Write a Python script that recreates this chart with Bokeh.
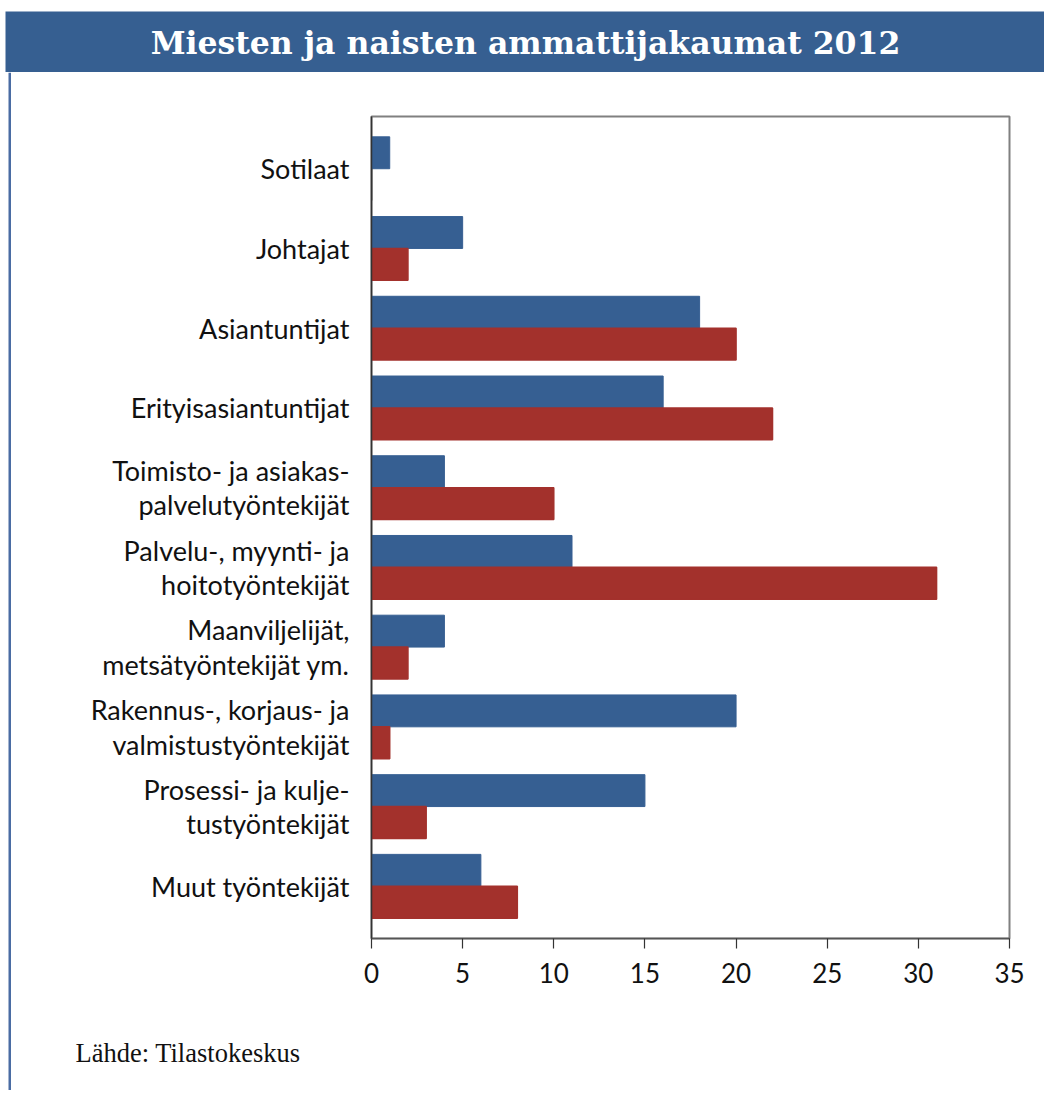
from bokeh.plotting import figure
from bokeh.models import Range1d, FixedTicker, ColumnDataSource
from bokeh.layouts import column, row
from bokeh.embed import file_html
from bokeh.resources import INLINE
from bokeh.core.properties import value

title_text = "Miesten ja naisten ammattijakaumat 2012"
source_text = "Lähde: Tilastokeskus"

categories = [
    "Sotilaat",
    "Johtajat",
    "Asiantuntijat",
    "Erityisasiantuntijat",
    "Toimisto- ja asiakas-\npalvelutyöntekijät",
    "Palvelu-, myynti- ja\nhoitotyöntekijät",
    "Maanviljelijät,\nmetsätyöntekijät ym.",
    "Rakennus-, korjaus- ja\nvalmistustyöntekijät",
    "Prosessi- ja kulje-\ntustyöntekijät",
    "Muut työntekijät",
]
men = [1, 5, 18, 16, 4, 11, 4, 20, 15, 6]
women = [0, 2, 20, 22, 10, 31, 2, 1, 3, 8]
x_ticks = [0, 5, 10, 15, 20, 25, 30, 35]

BLUE = "#365f92"
RED = "#a3312c"
HEADER = "#365f91"
SIDE = "#4a6ca3"

W = 1044
SANS = "Lato"


def bare(fig):
    fig.axis.visible = False
    fig.grid.visible = False
    fig.outline_line_color = None
    fig.frame_align = False
    return fig


NOB = dict(min_border=0, min_border_left=0, min_border_right=0,
           min_border_top=0, min_border_bottom=0)

# ---------- header ----------
HH = 72
hdr = bare(figure(width=W, height=HH, x_range=Range1d(0, W), y_range=Range1d(0, HH),
                  output_backend="svg", toolbar_location=None, **NOB))
hdr.quad(left=[5], right=[W], bottom=[0], top=[HH - 11], fill_color=HEADER, line_color=None)
hdr.text(x=[525], y=[HH - 42], text=[title_text], text_color="white",
         text_font=value("DejaVu Serif"), text_font_style="bold",
         text_font_size="31.5px", text_align="center", text_baseline="middle")

# ---------- main chart ----------
SW = 11
MW = W - SW
MH = 928
idx = list(range(len(categories)))
src = ColumnDataSource(dict(
    y_men=[i - 0.2 for i in idx],
    y_women=[i + 0.2 for i in idx],
    men=men,
    women=women,
    wline=["#222222" if v == 0 else RED for v in women],
))

p = figure(width=MW, height=MH, x_range=Range1d(0, 35), y_range=Range1d(9.655, -0.655),
           output_backend="svg", toolbar_location=None,
           min_border_left=360, min_border_right=MW - 998, min_border_top=44, min_border_bottom=62)
p.frame_align = False
p.hbar(y="y_men", right="men", left=0, height=0.4, source=src,
       fill_color=BLUE, line_color=BLUE, line_width=1)
p.hbar(y="y_women", right="women", left=0, height=0.4, source=src,
       fill_color=RED, line_color="wline", line_width=1.5)

p.grid.visible = False
p.outline_line_color = "#808080"
p.outline_line_width = 2

p.xaxis.ticker = FixedTicker(ticks=x_ticks)
p.xaxis.axis_line_color = "#555555"
p.xaxis.axis_line_width = 1.5
p.xaxis.major_tick_line_color = "#333333"
p.xaxis.major_tick_line_width = 1.2
p.xaxis.major_tick_in = 0
p.xaxis.major_tick_out = 10
p.xaxis.minor_tick_line_color = None
p.xaxis.major_label_standoff = 14
p.xaxis.major_label_text_font = SANS
p.xaxis.major_label_text_font_size = "26px"
p.xaxis.major_label_text_color = "#111111"

p.yaxis.ticker = FixedTicker(ticks=idx)
p.yaxis.major_label_overrides = {i: c for i, c in zip(idx, categories)}
p.yaxis.axis_line_color = "#333333"
p.yaxis.axis_line_width = 1.5
p.yaxis.major_tick_line_color = None
p.yaxis.minor_tick_line_color = None
p.yaxis.major_tick_in = 0
p.yaxis.major_tick_out = 0
p.yaxis.major_label_standoff = 22
p.yaxis.major_label_text_font = SANS
p.yaxis.major_label_text_font_size = "27px"
p.yaxis.major_label_text_color = "#111111"
p.yaxis.major_label_text_line_height = 1.05

# ---------- footer ----------
FH = 90
ftr = bare(figure(width=MW, height=FH, x_range=Range1d(0, MW), y_range=Range1d(0, FH),
                  output_backend="svg", toolbar_location=None, **NOB))
ftr.text(x=[75 - SW], y=[FH - 52], text=[source_text], text_color="#111111",
         text_font=value("Liberation Serif"), text_font_size="26.5px",
         text_align="left", text_baseline="middle")

# ---------- side line ----------
side = bare(figure(width=SW, height=MH + FH, x_range=Range1d(0, SW), y_range=Range1d(0, 1),
                   output_backend="svg", toolbar_location=None, **NOB))
side.quad(left=[8], right=[11], bottom=[0], top=[1], fill_color=SIDE, line_color=None)

layout = column(hdr, row(side, column(p, ftr)))

open("out.html", "w").write(file_html(layout, INLINE))
